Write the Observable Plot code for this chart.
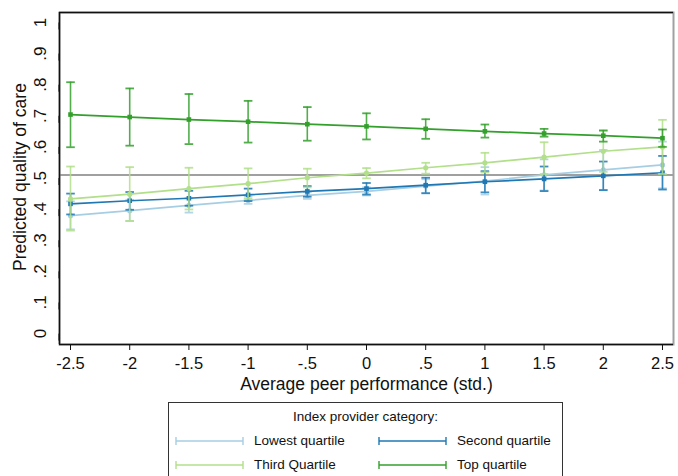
<!DOCTYPE html>
<html>
<head>
<meta charset="utf-8">
<script src="https://cdn.jsdelivr.net/npm/d3@7"></script>
<script src="https://cdn.jsdelivr.net/npm/@observablehq/plot@0.6"></script>
<style>
  html, body { margin: 0; padding: 0; background: white; }
  body { width: 678px; height: 476px; overflow: hidden; font-family: "Liberation Sans", Arial, sans-serif; }
  #legend { position: relative; margin-left: 168px; margin-top: 4px; width: 395px; height: 90px; border: 1px solid #333; box-sizing: border-box; font-size: 13.5px; color: #111; }
  #legend .title { position: absolute; left: 0; right: 0; top: 6px; text-align: center; }
  #legend .item { position: absolute; height: 16px; line-height: 16px; white-space: nowrap; }
  #legend svg { position: absolute; top: 3px; }
</style>
</head>
<body>
<div id="chart"></div>
<div id="legend"></div>
<script>
// ---- data ----
const xValues = [-2.5, -2, -1.5, -1, -0.5, 0, 0.5, 1, 1.5, 2, 2.5];
const xTickLabels = ["-2.5", "-2", "-1.5", "-1", "-.5", "0", ".5", "1", "1.5", "2", "2.5"];
const yTicks = [0, 0.1, 0.2, 0.3, 0.4, 0.5, 0.6, 0.7, 0.8, 0.9, 1];
const yTickLabels = ["0", ".1", ".2", ".3", ".4", ".5", ".6", ".7", ".8", ".9", "1"];
const referenceLine = 0.51;

const seriesNames = ["Lowest quartile", "Second quartile", "Third Quartile", "Top quartile"];
const seriesColors = ["#a6cee3", "#1f78b4", "#b2df8a", "#33a02c"];
const seriesSymbols = ["circle", "square", "circle", "square"];

const lowestFit = [0.379, 0.395, 0.412, 0.428, 0.444, 0.457, 0.474, 0.490, 0.510, 0.526, 0.542];
const lowestLo  = [0.335, 0.362, 0.389, 0.417, 0.433, 0.444, 0.452, 0.447, 0.460, 0.462, 0.467];
const lowestHi  = [0.425, 0.430, 0.435, 0.440, 0.455, 0.470, 0.496, 0.535, 0.560, 0.590, 0.617];

const secondFit = [0.417, 0.427, 0.435, 0.446, 0.457, 0.466, 0.477, 0.488, 0.497, 0.507, 0.517];
const secondLo  = [0.383, 0.398, 0.411, 0.426, 0.440, 0.447, 0.451, 0.454, 0.458, 0.461, 0.463];
const secondHi  = [0.450, 0.455, 0.459, 0.466, 0.474, 0.484, 0.501, 0.522, 0.537, 0.553, 0.571];

const thirdFit = [0.433, 0.448, 0.466, 0.482, 0.501, 0.516, 0.533, 0.549, 0.567, 0.586, 0.600];
const thirdLo  = [0.331, 0.362, 0.399, 0.433, 0.470, 0.499, 0.514, 0.518, 0.513, 0.520, 0.513];
const thirdHi  = [0.537, 0.535, 0.533, 0.531, 0.530, 0.532, 0.549, 0.581, 0.615, 0.652, 0.687];

const topFit = [0.704, 0.696, 0.688, 0.681, 0.673, 0.666, 0.658, 0.650, 0.643, 0.636, 0.628];
const topLo  = [0.599, 0.604, 0.609, 0.614, 0.620, 0.624, 0.626, 0.630, 0.633, 0.617, 0.600];
const topHi  = [0.808, 0.788, 0.770, 0.748, 0.728, 0.708, 0.689, 0.672, 0.658, 0.653, 0.656];

const fits = [lowestFit, secondFit, thirdFit, topFit];
const los = [lowestLo, secondLo, thirdLo, topLo];
const his = [lowestHi, secondHi, thirdHi, topHi];

const xTitle = "Average peer performance (std.)";
const yTitle = "Predicted quality of care";
const legendTitle = "Index provider category:";

// ---- build table ----
const rows = [];
seriesNames.forEach((name, s) => {
  xValues.forEach((x, i) => {
    rows.push({series: name, x, fit: fits[s][i], lo: los[s][i], hi: his[s][i]});
  });
});

const capSymbol = {
  draw(context) {
    context.moveTo(-4.3, 0);
    context.lineTo(4.3, 0);
  }
};

const xDomain = [-2.593, 2.593];
const yDomain = [-0.035, 1.032];

const marks = [
  Plot.frame({stroke: "#a0a0a0", strokeWidth: 2}),
  Plot.ruleY([referenceLine], {stroke: "#a0a0a0", strokeWidth: 2})
];
seriesNames.forEach((name, s) => {
  const d = rows.filter(r => r.series === name);
  marks.push(
    Plot.ruleX(d, {x: "x", y1: "lo", y2: "hi", stroke: "series", strokeWidth: 1.6, strokeOpacity: 0.85}),
    Plot.dot(d, {x: "x", y: "lo", symbol: capSymbol, stroke: "series", fill: "none", strokeWidth: 1.8, strokeOpacity: 0.85}),
    Plot.dot(d, {x: "x", y: "hi", symbol: capSymbol, stroke: "series", fill: "none", strokeWidth: 1.8, strokeOpacity: 0.85}),
    Plot.line(d, {x: "x", y: "fit", stroke: "series", strokeWidth: 1.7}),
    Plot.dot(d, {x: "x", y: "fit", symbol: seriesSymbols[s], r: 2.6, fill: "series", stroke: "none"})
  );
});
marks.push(
  Plot.ruleX([xDomain[0]], {stroke: "#111", strokeWidth: 1.5}),
  Plot.ruleY([yDomain[0]], {stroke: "#111", strokeWidth: 1.5}),
  Plot.ruleY([yDomain[1]], {stroke: "#111", strokeWidth: 1.5}),
  Plot.axisX({ticks: xValues, tickSize: 6, tickPadding: 7, tickFormat: d => xTickLabels[xValues.indexOf(d)], label: null, fontSize: 16.5, stroke: "#111"}),
  Plot.axisY({ticks: yTicks, tickSize: 7, tickPadding: 12, tickFormat: d => yTickLabels[yTicks.indexOf(d)], label: null, fontSize: 17, rotate: -90, textAnchor: "middle", stroke: "#111"}),
  Plot.text([xTitle], {frameAnchor: "bottom", dy: 40, lineAnchor: "middle", textAnchor: "middle", text: d => d, fontSize: 17.5, fill: "#111"}),
  Plot.text([yTitle], {frameAnchor: "left", dx: -39, dy: -1.5, rotate: -90, lineAnchor: "middle", textAnchor: "middle", text: d => d, fontSize: 17.5, fill: "#111"})
);

const chart = Plot.plot({
  width: 678,
  height: 398,
  marginLeft: 59,
  marginRight: 5,
  marginTop: 12,
  marginBottom: 54,
  x: {domain: xDomain},
  y: {domain: yDomain},
  color: {domain: seriesNames, range: seriesColors},
  style: {fontFamily: "'Liberation Sans', Arial, sans-serif", color: "#111", background: "white", overflow: "visible"},
  marks
});
document.getElementById("chart").appendChild(chart);

// ---- legend (HTML below the SVG) ----
const legend = document.getElementById("legend");
const t = document.createElement("div");
t.className = "title";
t.textContent = legendTitle;
legend.appendChild(t);
const positions = [
  {left: 6, top: 30}, {left: 209, top: 30},
  {left: 6, top: 54}, {left: 209, top: 54}
];
seriesNames.forEach((name, s) => {
  const item = document.createElement("div");
  item.className = "item";
  item.style.left = positions[s].left + "px";
  item.style.top = positions[s].top + "px";
  const color = seriesColors[s];
  item.innerHTML =
    `<svg width="70" height="10" style="left:0"><line x1="1" y1="5" x2="68" y2="5" stroke="${color}" stroke-width="1.6"/>` +
    `<line x1="1" y1="1" x2="1" y2="9" stroke="${color}" stroke-width="1.4"/>` +
    `<line x1="68" y1="1" x2="68" y2="9" stroke="${color}" stroke-width="1.4"/></svg>` +
    `<span style="position:absolute;left:79px;top:0">${name}</span>`;
  legend.appendChild(item);
});
</script>
</body>
</html>
